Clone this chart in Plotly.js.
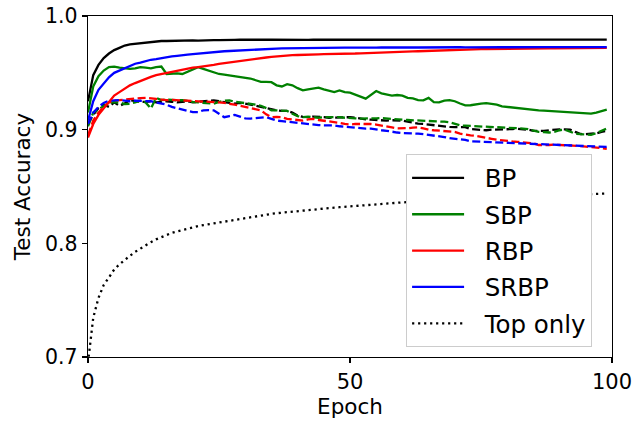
<!DOCTYPE html>
<html>
<head>
<meta charset="utf-8">
<script src="https://cdn.plot.ly/plotly-3.0.1.min.js"></script>
<style>html,body{margin:0;padding:0;background:#fff;}#chart{width:644px;height:421px;}</style>
</head>
<body>
<div id="chart"></div>
<script>
const epochs = Array.from({length: 100}, (_, i) => i);

const bp = [0.925,0.948,0.957,0.963,0.967,0.970,0.972,0.974,0.975,0.9755,
0.9765,0.977,0.9772,0.9778,0.978,0.978,0.9782,0.978,0.9785,0.9786,
0.9786,0.9784,0.9787,0.9789,0.9788,0.9787,0.979,0.9791,0.979,0.9791,
0.979,0.979,0.9789,0.979,0.9791,0.9792,0.9791,0.979,0.979,0.9791,
0.9792,0.9791,0.979,0.9791,0.9792,0.9792,0.9791,0.979,0.9791,0.9792,
0.9791,0.9791,0.9792,0.9792,0.9791,0.979,0.9791,0.9792,0.9792,0.9791,
0.9791,0.9792,0.9792,0.9791,0.9791,0.9792,0.9793,0.9792,0.9791,0.9792,
0.9792,0.9791,0.9792,0.9793,0.9792,0.9791,0.9792,0.9792,0.9793,0.9792,
0.9792,0.9791,0.9792,0.9793,0.9792,0.9792,0.9793,0.9792,0.9791,0.9792,
0.9793,0.9792,0.9792,0.9793,0.9792,0.9792,0.9793,0.9792,0.9792,0.9792];

const sbp = [0.915,0.938,0.947,0.952,0.955,0.9555,0.9545,0.954,0.9535,0.954,
0.955,0.9545,0.954,0.955,0.9555,0.949,0.9495,0.9495,0.949,0.951,
0.9535,0.955,0.9535,0.952,0.951,0.949,0.9485,0.9478,0.947,0.9465,
0.946,0.945,0.9435,0.942,0.942,0.9418,0.939,0.938,0.940,0.939,
0.9365,0.9346,0.9355,0.9365,0.937,0.9355,0.934,0.933,0.9345,0.933,
0.9325,0.931,0.929,0.9273,0.931,0.934,0.932,0.931,0.930,0.9305,
0.930,0.928,0.9275,0.926,0.9258,0.928,0.9243,0.924,0.9255,0.926,
0.925,0.923,0.9214,0.9215,0.9225,0.923,0.9234,0.923,0.922,0.9205,
0.920,0.919,0.9185,0.9179,0.918,0.9175,0.917,0.9168,0.9165,0.9162,
0.916,0.9158,0.9156,0.9155,0.915,0.9145,0.9141,0.915,0.9165,0.9176];

const rbp = [0.893,0.905,0.913,0.919,0.925,0.930,0.933,0.936,0.939,0.941,
0.943,0.945,0.9465,0.948,0.949,0.950,0.951,0.952,0.953,0.9538,
0.9545,0.955,0.9555,0.9562,0.957,0.9578,0.9585,0.959,0.9597,0.9605,
0.961,0.9618,0.9625,0.963,0.9635,0.964,0.9645,0.965,0.9652,0.9655,
0.9657,0.966,0.966,0.9662,0.9663,0.9665,0.9665,0.9667,0.9668,0.9669,
0.967,0.967,0.9672,0.9673,0.9675,0.9677,0.9678,0.968,0.968,0.9682,
0.9684,0.9686,0.9688,0.969,0.9692,0.9694,0.9696,0.9698,0.970,0.9701,
0.9702,0.9703,0.9705,0.9706,0.9707,0.9708,0.9709,0.971,0.971,0.9711,
0.9712,0.9711,0.9712,0.9713,0.9714,0.9714,0.9713,0.9715,0.9716,0.9716,
0.9717,0.9716,0.9717,0.9718,0.9718,0.9719,0.9718,0.9719,0.972,0.972];

const srbp = [0.908,0.925,0.935,0.941,0.946,0.950,0.952,0.954,0.956,0.958,
0.959,0.9605,0.9615,0.962,0.963,0.964,0.9645,0.965,0.9658,0.966,
0.9665,0.967,0.9672,0.9676,0.968,0.9685,0.969,0.9692,0.9695,0.9698,
0.970,0.9703,0.9705,0.9708,0.971,0.9712,0.9713,0.9715,0.9716,0.9716,
0.9718,0.9717,0.9719,0.9718,0.972,0.9721,0.972,0.9719,0.9721,0.9722,
0.9721,0.972,0.9722,0.9723,0.9722,0.9721,0.9723,0.9724,0.9723,0.9722,
0.9723,0.9724,0.9724,0.9723,0.9724,0.9725,0.9724,0.9724,0.9725,0.9724,
0.9725,0.9725,0.9724,0.9725,0.9726,0.9725,0.9724,0.9725,0.9726,0.9725,
0.9725,0.9726,0.9725,0.9725,0.9726,0.9726,0.9725,0.9726,0.9726,0.9725,
0.9726,0.9726,0.9725,0.9726,0.9727,0.9726,0.9726,0.9726,0.9727,0.9726];

const bpDashed = [0.905,0.913,0.919,0.922,0.920,0.924,0.921,0.923,0.926,0.925,
0.9245,0.9245,0.925,0.924,0.9245,0.925,0.9245,0.924,0.9245,0.925,
0.924,0.9245,0.925,0.9255,0.9258,0.925,0.924,0.9235,0.923,0.9235,
0.923,0.922,0.921,0.920,0.919,0.9175,0.917,0.9165,0.9165,0.915,
0.9125,0.9112,0.911,0.9115,0.9115,0.911,0.9105,0.9106,0.9105,0.911,
0.911,0.9105,0.9095,0.909,0.9088,0.9085,0.908,0.908,0.9083,0.908,
0.908,0.907,0.906,0.9053,0.905,0.9045,0.9038,0.903,0.9025,0.9024,
0.9022,0.902,0.9022,0.9005,0.900,0.8998,0.8995,0.900,0.900,0.9002,
0.900,0.9005,0.9008,0.9006,0.900,0.899,0.8987,0.899,0.8995,0.900,
0.9003,0.9002,0.900,0.898,0.8962,0.896,0.8965,0.8968,0.898,0.899];

const sbpDashed = [0.903,0.915,0.918,0.921,0.9235,0.9243,0.924,0.9225,0.9228,0.924,
0.9255,0.924,0.9185,0.928,0.926,0.9265,0.926,0.9258,0.926,0.925,
0.9245,0.924,0.9235,0.923,0.9228,0.9245,0.9255,0.9258,0.9245,0.924,
0.9235,0.923,0.922,0.921,0.919,0.917,0.917,0.9168,0.9165,0.914,
0.912,0.911,0.9115,0.911,0.9105,0.911,0.9112,0.911,0.911,0.9105,
0.9105,0.910,0.9098,0.9097,0.9098,0.910,0.9102,0.910,0.9095,0.909,
0.9088,0.9085,0.9083,0.908,0.908,0.908,0.908,0.9076,0.907,0.9065,
0.905,0.9038,0.9035,0.9033,0.903,0.9032,0.903,0.9028,0.9025,0.902,
0.9018,0.9015,0.9012,0.901,0.9005,0.8995,0.898,0.8978,0.8975,0.898,
0.8995,0.900,0.898,0.8965,0.896,0.8958,0.8955,0.897,0.899,0.901];

const rbpDashed = [0.895,0.908,0.915,0.920,0.924,0.9258,0.926,0.9265,0.9273,0.9275,
0.9278,0.928,0.9278,0.927,0.9265,0.926,0.9262,0.926,0.9258,0.9255,
0.925,0.9248,0.9245,0.9243,0.9243,0.924,0.9235,0.923,0.922,0.921,
0.920,0.919,0.918,0.917,0.9135,0.911,0.9112,0.911,0.9095,0.909,
0.9085,0.908,0.909,0.9095,0.9085,0.908,0.907,0.9067,0.906,0.905,
0.9045,0.905,0.9052,0.9053,0.905,0.9045,0.9035,0.903,0.902,0.9012,
0.901,0.9013,0.9018,0.902,0.9012,0.900,0.8995,0.899,0.8985,0.8982,
0.898,0.8965,0.8955,0.895,0.8945,0.8935,0.8925,0.892,0.8912,0.8905,
0.8898,0.8896,0.8893,0.889,0.8885,0.888,0.8865,0.8863,0.8865,0.8868,
0.8866,0.8864,0.8863,0.886,0.8855,0.885,0.8848,0.8845,0.8838,0.8832];

const srbpDashed = [0.905,0.915,0.920,0.9235,0.9255,0.9258,0.926,0.9255,0.925,0.9255,
0.9252,0.925,0.925,0.924,0.923,0.922,0.920,0.919,0.918,0.917,
0.9155,0.9155,0.917,0.9172,0.917,0.914,0.911,0.912,0.913,0.9115,
0.910,0.9097,0.910,0.9108,0.911,0.9095,0.908,0.9075,0.907,0.906,
0.9055,0.9053,0.905,0.9045,0.904,0.9038,0.904,0.9038,0.903,0.9025,
0.9024,0.902,0.9015,0.901,0.901,0.900,0.8995,0.899,0.898,0.8975,
0.897,0.897,0.8968,0.8965,0.896,0.8955,0.8947,0.894,0.8935,0.8925,
0.892,0.8915,0.891,0.8898,0.8896,0.8894,0.8892,0.889,0.8889,0.8888,
0.8888,0.8885,0.888,0.8878,0.8876,0.8874,0.8872,0.887,0.8868,0.8866,
0.8865,0.8864,0.8863,0.886,0.8858,0.8856,0.8854,0.8852,0.885,0.8848];

const topOnly = [0.695,0.7345,0.752,0.7634,0.770,0.777,0.7815,0.7855,0.789,0.7925,
0.7955,0.7985,0.801,0.8035,0.8055,0.8075,0.8092,0.8105,0.8118,0.8130,
0.8141,0.8151,0.8160,0.8168,0.8176,0.8184,0.8192,0.8200,0.8208,0.8215,
0.8222,0.8230,0.8238,0.8245,0.8252,0.8259,0.8265,0.8270,0.8275,0.8280,
0.8285,0.8288,0.8292,0.8296,0.8300,0.8304,0.8309,0.8314,0.8318,0.8322,
0.8326,0.8330,0.8334,0.8337,0.8340,0.8344,0.8347,0.8350,0.8354,0.8357,
0.8360,0.8363,0.8365,0.8368,0.8371,0.8373,0.8376,0.8379,0.8381,0.8384,
0.8386,0.8388,0.8390,0.8393,0.8395,0.8397,0.8399,0.8401,0.8403,0.8405,
0.8407,0.8409,0.8411,0.8412,0.8414,0.8416,0.8417,0.8419,0.8421,0.8422,
0.8424,0.8425,0.8427,0.8429,0.8430,0.8432,0.8434,0.8435,0.8437,0.8439];

const seriesNames = ['BP', 'SBP', 'RBP', 'SRBP', 'Top only'];
const xTicks = [0, 50, 100];
const yTicks = [0.7, 0.8, 0.9, 1.0];

const W = 2.3;
const DASH = '8px,3.5px';
const PAD = '\u00a0\u00a0';
function solid(y, name, color) {
  return {x: epochs, y: y, name: PAD + name, legendgroup: name, type: 'scatter', mode: 'lines',
          line: {color: color, width: W}};
}
function dashed(y, name, color) {
  return {x: epochs, y: y, name: name + ' (dashed)', showlegend: false, type: 'scatter', mode: 'lines',
          line: {color: color, width: W, dash: DASH}};
}

const traces = [
  dashed(bpDashed, seriesNames[0], '#000000'),
  dashed(sbpDashed, seriesNames[1], '#008000'),
  dashed(rbpDashed, seriesNames[2], '#ff0000'),
  dashed(srbpDashed, seriesNames[3], '#0000ff'),
  solid(bp, seriesNames[0], '#000000'),
  solid(sbp, seriesNames[1], '#008000'),
  solid(rbp, seriesNames[2], '#ff0000'),
  solid(srbp, seriesNames[3], '#0000ff'),
  {x: epochs, y: topOnly, name: PAD + seriesNames[4], legendgroup: seriesNames[4], type: 'scatter', mode: 'lines',
   line: {color: '#000000', width: W, dash: '2.2px,3.8px'}}
];

const FONT = 'DejaVu Sans, sans-serif';
const layout = {
  width: 644, height: 421,
  margin: {l: 87.5, r: 32, t: 15.5, b: 64},
  paper_bgcolor: '#ffffff', plot_bgcolor: '#ffffff',
  font: {family: FONT, color: '#000000', size: 21},
  showlegend: true,
  legend: {
    x: 0.962, xanchor: 'right', y: 0.028, yanchor: 'bottom',
    bgcolor: '#ffffff', bordercolor: '#cccccc', borderwidth: 1,
    font: {family: FONT, size: 24.5, color: '#000000'},
    tracegroupgap: 1.5, itemwidth: 52, traceorder: 'grouped'
  },
  xaxis: {
    range: [0, 100], tickvals: xTicks, ticktext: xTicks.map(String),
    showgrid: false, zeroline: false, showline: true, linecolor: '#000000', linewidth: 1.3,
    mirror: true, ticks: 'outside', ticklen: 5, tickwidth: 1.3, tickcolor: '#000000',
    tickfont: {family: FONT, size: 21},
    title: {text: 'Epoch', font: {family: FONT, size: 21.5}, standoff: 6}
  },
  yaxis: {
    range: [0.7, 1.0], tickvals: yTicks, ticktext: yTicks.map(v => v.toFixed(1)),
    showgrid: false, zeroline: false, showline: true, linecolor: '#000000', linewidth: 1.3,
    mirror: true, ticks: 'outside', ticklen: 5, tickwidth: 1.3, tickcolor: '#000000',
    tickfont: {family: FONT, size: 20.5},
    title: {text: 'Test Accuracy', font: {family: FONT, size: 21.5}, standoff: 8}
  }
};

Plotly.newPlot('chart', traces, layout, {staticPlot: true, displayModeBar: false});
</script>
</body>
</html>
